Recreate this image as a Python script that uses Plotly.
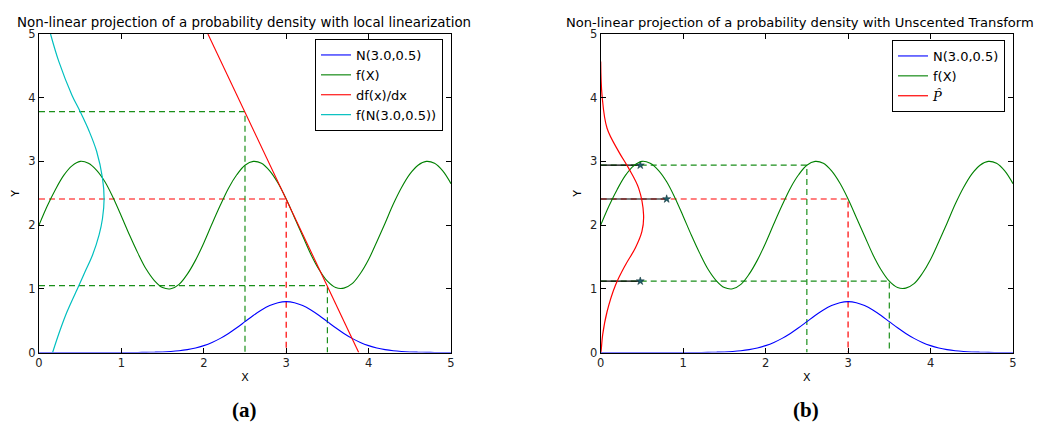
import plotly.graph_objects as go

# ---------------- data ----------------
x_grid = [round(i * 0.1, 1) for i in range(51)]
f_vals = [2.00, 2.30, 2.56, 2.78, 2.93, 3.00, 2.97, 2.86, 2.68, 2.43,
          2.14, 1.84, 1.56, 1.31, 1.13, 1.02, 1.00, 1.07, 1.23, 1.45,
          1.72, 2.02, 2.31, 2.58, 2.79, 2.94, 3.00, 2.97, 2.85, 2.66,
          2.41, 2.12, 1.83, 1.54, 1.30, 1.12, 1.02, 1.01, 1.08, 1.24,
          1.46, 1.74, 2.03, 2.33, 2.59, 2.80, 2.94, 3.00, 2.97, 2.85,
          2.65]
n_vals = [0.0, 0.0, 0.0, 0.0, 0.0, 0.0, 0.0, 0.0, 0.0, 0.0,
          0.0, 0.0, 0.001, 0.002, 0.005, 0.009, 0.016, 0.027, 0.045, 0.071,
          0.108, 0.158, 0.222, 0.299, 0.388, 0.484, 0.580, 0.667, 0.737, 0.782,
          0.798, 0.782, 0.737, 0.667, 0.580, 0.484, 0.388, 0.299, 0.222, 0.158,
          0.108, 0.071, 0.045, 0.027, 0.016, 0.009, 0.005, 0.002, 0.001, 0.0,
          0.0]

# tangent line df(x)/dx at x = 3
tangent_x = [2.05, 3.88]
tangent_y = [5.00, 0.00]

# transformed density (cyan), drawn along the Y axis
cyan_y = [0.0, 0.33, 0.64, 1.04, 1.27, 1.53, 1.85, 2.10, 2.41, 2.74, 3.155, 3.47, 3.78, 4.04, 4.57, 5.0]
cyan_x = [0.165, 0.25, 0.34, 0.48, 0.56, 0.65, 0.73, 0.77, 0.79, 0.77, 0.70, 0.61, 0.50, 0.40, 0.24, 0.14]

# estimated density P-hat (red), drawn along the Y axis
phat_y = [0.0, 0.02, 0.28, 0.64, 1.06, 1.375, 1.64, 1.90, 2.16, 2.58, 2.89, 3.15, 3.52, 4.04, 4.57]
phat_x = [0.0, 0.004, 0.024, 0.077, 0.18, 0.30, 0.42, 0.50, 0.52, 0.46, 0.34, 0.22, 0.077, 0.016, 0.0]

# projection guides
lin_x = [2.5, 3.0, 3.5]
lin_y = [3.78, 2.41, 1.05]
ut_x = [2.5, 3.0, 3.5]
ut_y = [2.94, 2.41, 1.12]
sigma_w = [0.48, 0.80, 0.48]

BLUE = "#0000ff"
GREEN = "#008000"
DGREEN = "#1a8f1a"
RED = "#ff0000"
CYAN = "#00bfbf"
FONT = "DejaVu Sans"

fig = go.Figure()


def guides(xs, ys, xa, ya, colors):
    for gx, gy, c in zip(xs, ys, colors):
        fig.add_trace(go.Scatter(x=[0, gx, gx], y=[gy, gy, 0], mode="lines",
                                 line=dict(color=c, width=1.2, dash="6px,4px"),
                                 xaxis=xa, yaxis=ya, showlegend=False, hoverinfo="skip"))


# ---------- left panel ----------
guides(lin_x, lin_y, "x", "y", [DGREEN, RED, DGREEN])
fig.add_trace(go.Scatter(x=x_grid, y=n_vals, mode="lines", name="N(3.0,0.5)",
                         line=dict(color=BLUE, width=1.1, shape="spline"), xaxis="x", yaxis="y", legend="legend"))
fig.add_trace(go.Scatter(x=x_grid, y=f_vals, mode="lines", name="f(X)",
                         line=dict(color=GREEN, width=1.1, shape="spline"), xaxis="x", yaxis="y", legend="legend"))
fig.add_trace(go.Scatter(x=tangent_x, y=tangent_y, mode="lines", name="df(x)/dx",
                         line=dict(color=RED, width=1.1), xaxis="x", yaxis="y", legend="legend"))
fig.add_trace(go.Scatter(x=cyan_x, y=cyan_y, mode="lines", name="f(N(3.0,0.5))",
                         line=dict(color=CYAN, width=1.2, shape="spline", smoothing=1.0),
                         xaxis="x", yaxis="y", legend="legend"))

# ---------- right panel ----------
guides(ut_x, ut_y, "x2", "y2", [DGREEN, RED, DGREEN])
for w, gy in zip(sigma_w, ut_y):
    fig.add_trace(go.Scatter(x=[0, w], y=[gy, gy], mode="lines",
                             line=dict(color="black", width=1.2),
                             xaxis="x2", yaxis="y2", legend="legend2",
                             showlegend=False, hoverinfo="skip"))
fig.add_trace(go.Scatter(x=sigma_w, y=ut_y, mode="markers",
                         marker=dict(symbol="star", size=6, color="#1f5f6a",
                                     line=dict(color="#0a2a30", width=0.5)),
                         xaxis="x2", yaxis="y2", legend="legend2", showlegend=False))
fig.add_trace(go.Scatter(x=x_grid, y=n_vals, mode="lines", name="N(3.0,0.5)",
                         line=dict(color=BLUE, width=1.1, shape="spline"), xaxis="x2", yaxis="y2", legend="legend2"))
fig.add_trace(go.Scatter(x=x_grid, y=f_vals, mode="lines", name="f(X)",
                         line=dict(color=GREEN, width=1.1, shape="spline"), xaxis="x2", yaxis="y2", legend="legend2"))
fig.add_trace(go.Scatter(x=phat_x, y=phat_y, mode="lines",
                         name="<i><span style='font-family:DejaVu Serif'>P\u0302</span></i>",
                         line=dict(color=RED, width=1.2, shape="spline"), xaxis="x2", yaxis="y2", legend="legend2"))

# page body has an 8px margin: figure is placed at (8, 8)
OFF = 8
W, H = 1048 - OFF, 425 - OFF


def px(p):
    return (p - OFF) / W


def py(p):
    return 1 - (p - OFF) / H


yd = [py(352.5), py(34)]

axis_common = dict(range=[0, 5], dtick=1, tick0=0, ticks="inside", ticklen=5, tickcolor="black",
                   showline=True, linecolor="black", linewidth=1, mirror="ticks",
                   showgrid=False, zeroline=False, automargin=False,
                   tickfont=dict(family=FONT, size=11.5, color="#222"))

fig.update_layout(
    width=W, height=H,
    margin=dict(l=0, r=0, t=0, b=0, autoexpand=False),
    paper_bgcolor="white", plot_bgcolor="white",
    font=dict(family=FONT, size=12, color="black"),
    xaxis=dict(domain=[px(39), px(451)], anchor="y",
               title=dict(text="X", font=dict(size=11), standoff=4), **axis_common),
    yaxis=dict(domain=yd, anchor="x",
               title=dict(text="Y", font=dict(size=11), standoff=6), **axis_common),
    xaxis2=dict(domain=[px(600.7), px(1013)], anchor="y2",
                title=dict(text="X", font=dict(size=11), standoff=4), **axis_common),
    yaxis2=dict(domain=yd, anchor="x2",
                title=dict(text="Y", font=dict(size=11), standoff=6), **axis_common),
    legend=dict(x=px(315), y=py(39), xanchor="left", yanchor="top",
                bgcolor="white", bordercolor="black", borderwidth=1,
                font=dict(family=FONT, size=13), tracegroupgap=0),
    legend2=dict(x=px(892), y=py(40), xanchor="left", yanchor="top",
                 bgcolor="white", bordercolor="black", borderwidth=1,
                 font=dict(family=FONT, size=13), tracegroupgap=0),
    annotations=[
        dict(text="Non-linear projection of a probability density with local linearization",
             x=px(244), y=py(22), xref="paper", yref="paper", showarrow=False,
             xanchor="center", yanchor="middle",
             font=dict(family=FONT, size=13.4, color="black")),
        dict(text="Non-linear projection of a probability density with Unscented Transform",
             x=px(1036), y=py(22), xref="paper", yref="paper", showarrow=False,
             xanchor="right", yanchor="middle",
             font=dict(family=FONT, size=13.1, color="black")),
        dict(text="<b>(a)</b>", x=px(244), y=py(410), xref="paper", yref="paper",
             xanchor="center", yanchor="middle",
             showarrow=False, font=dict(family="Liberation Serif", size=21, color="black")),
        dict(text="<b>(b)</b>", x=px(806), y=py(410), xref="paper", yref="paper",
             xanchor="center", yanchor="middle",
             showarrow=False, font=dict(family="Liberation Serif", size=21, color="black")),
    ],
)

fig.write_html("out.html")
